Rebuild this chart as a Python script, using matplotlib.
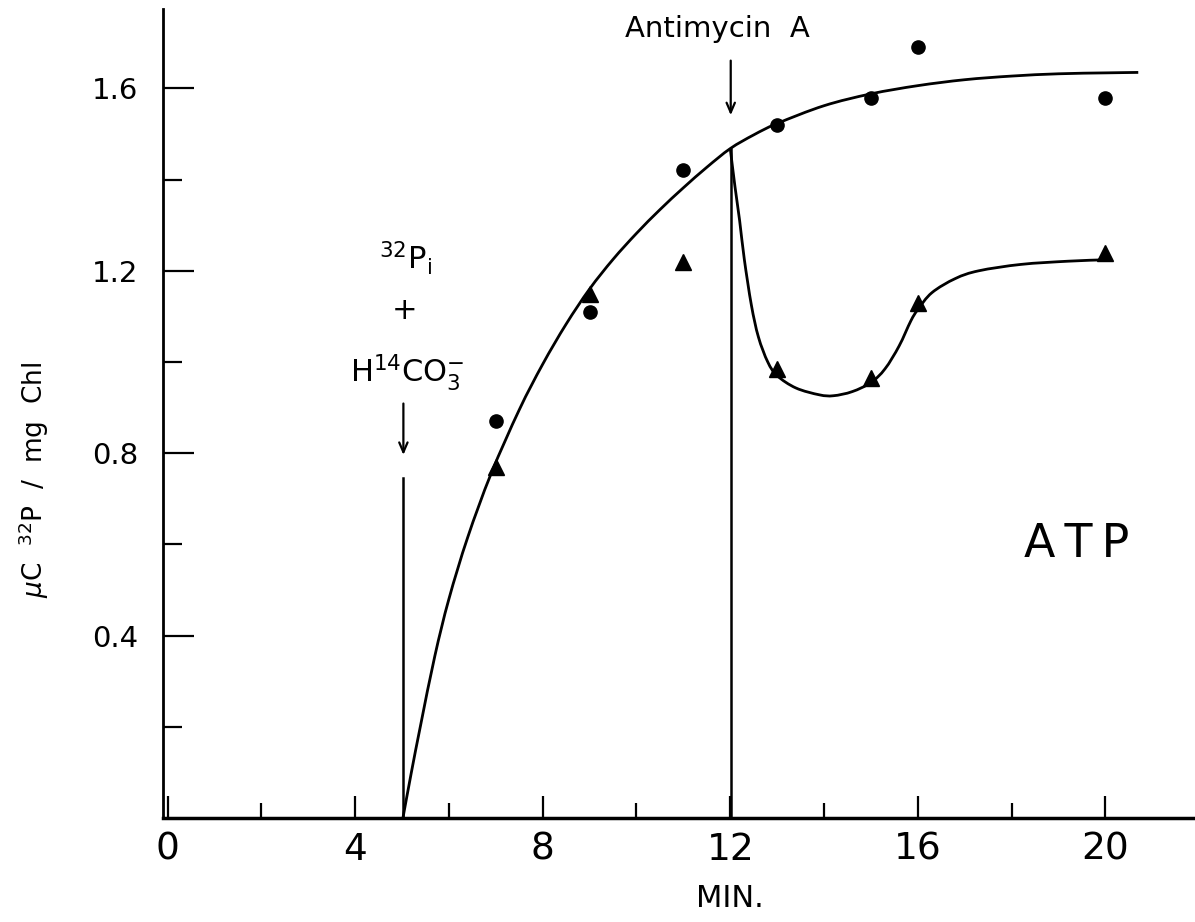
import numpy as np
import matplotlib
matplotlib.use('Agg')
import matplotlib.pyplot as plt
from matplotlib.path import Path
from matplotlib.patches import PathPatch

# measured points (min, uC 32P / mg Chl)
time = [7, 9, 11, 13, 15, 16, 20]
control = [0.87, 1.11, 1.42, 1.52, 1.58, 1.69, 1.58]
antimycin = [0.77, 1.15, 1.22, 0.985, 0.965, 1.13, 1.24]

# hand drawn curve through the control points
fit_t = [5.02, 5.2, 5.4, 5.7, 6.0, 6.4, 6.9, 7.5, 8.0, 8.5, 9.0, 9.5, 10.0, 10.5,
         11.0, 11.5, 12.0, 12.5, 13.0, 14.0, 15.0, 16.0, 17.0, 18.0, 19.0, 20.0, 20.7]
fit_y = [0.0, 0.10, 0.205, 0.355, 0.48, 0.615, 0.755, 0.895, 0.995, 1.083, 1.16, 1.225, 1.282, 1.334,
         1.382, 1.427, 1.468, 1.498, 1.523, 1.562, 1.588, 1.606, 1.619, 1.627, 1.632, 1.634, 1.635]

# curve after antimycin addition
drop_t = [12.0, 12.1, 12.2, 12.3, 12.45, 12.6, 12.8, 13.0, 13.4, 13.9, 14.2, 14.6, 15.0,
          15.3, 15.6, 15.85, 16.0, 16.3, 16.8, 17.3, 18.2, 19.2, 19.95]
drop_y = [1.468, 1.385, 1.31, 1.225, 1.125, 1.055, 1.0, 0.97, 0.943, 0.928, 0.926, 0.935, 0.955,
          0.985, 1.035, 1.09, 1.115, 1.152, 1.183, 1.200, 1.214, 1.221, 1.224]

xticks = [0, 4, 8, 12, 16, 20]
xminor = [2, 6, 10, 14, 18]
yticks = [0.4, 0.8, 1.2, 1.6]
yminor = [0.2, 0.6, 1.0, 1.4]

t_label = 5.03      # 32Pi + H14CO3- added
t_anti = 12.01      # antimycin A added


def smooth_path(xs, ys):
    # catmull-rom style bezier through the read points, so the pen line has no kinks
    pts = np.column_stack([xs, ys])
    verts = [pts[0]]
    codes = [Path.MOVETO]
    n = len(pts)
    for i in range(n - 1):
        p0 = pts[max(i - 1, 0)]
        p1 = pts[i]
        p2 = pts[i + 1]
        p3 = pts[min(i + 2, n - 1)]
        c1 = p1 + (p2 - p0) / 6.0
        c2 = p2 - (p3 - p1) / 6.0
        verts += [c1, c2, p2]
        codes += [Path.CURVE4] * 3
    return Path(verts, codes)


fig = plt.figure(figsize=(11.95, 9.22), dpi=100)
ax = fig.add_axes([0.1364, 0.1128, 0.8636, 0.8774])

ax.add_patch(PathPatch(smooth_path(fit_t, fit_y), fill=False, color='black', lw=2.0))
ax.add_patch(PathPatch(smooth_path(drop_t, drop_y), fill=False, color='black', lw=2.0))
ax.plot(time, control, 'o', color='black', ms=9.5)
ax.plot(time, antimycin, '^', color='black', ms=11)

# vertical markers for additions
ax.plot([t_label, t_label], [0, 0.746], color='black', lw=1.8)
ax.plot([t_anti, t_anti], [0, 1.468], color='black', lw=1.8)

arrow = dict(arrowstyle='->,head_length=0.7,head_width=0.3', color='black', lw=1.6)
ax.annotate('', xy=(t_label, 0.79), xytext=(t_label, 0.915), arrowprops=arrow)
ax.annotate('', xy=(t_anti, 1.535), xytext=(t_anti, 1.667), arrowprops=arrow)

ax.text(5.08, 1.228, r'$^{32}$P$_{\mathrm{i}}$', fontsize=22, ha='center', va='center')
ax.text(5.06, 1.114, '+', fontsize=22, ha='center', va='center')
ax.text(5.12, 0.978, r'H$^{14}$CO$_3^{-}$', fontsize=22, ha='center', va='center')
ax.text(11.72, 1.73, 'Antimycin  A', fontsize=21, ha='center', va='center')
ax.text(19.39, 0.599, 'A\u2009T\u2009P', fontsize=33, ha='center', va='center')

ax.set_xlim(-0.096, 21.91)
ax.set_ylim(0, 1.774)
ax.set_xticks(xticks)
ax.set_xticks(xminor, minor=True)
ax.set_yticks(yticks)
ax.set_yticks(yminor, minor=True)
ax.set_xticklabels([str(v) for v in xticks])
ax.set_yticklabels(['0.4', '0.8', '1.2', '1.6'])

ax.spines['top'].set_visible(False)
ax.spines['right'].set_visible(False)
ax.spines['left'].set_linewidth(2.0)
ax.spines['bottom'].set_linewidth(2.5)

ax.tick_params(axis='x', which='major', direction='in', length=16, width=1.6, labelsize=27, pad=10)
ax.tick_params(axis='x', which='minor', direction='in', length=11, width=1.6)
ax.tick_params(axis='y', which='major', direction='in', length=22, width=1.6, labelsize=21, pad=18)
ax.tick_params(axis='y', which='minor', direction='in', length=14, width=1.6)

fig.text(730 / 1195, 1 - 898 / 922, 'MIN.', fontsize=22, ha='center', va='center')
fig.text(34 / 1195, 1 - 480 / 922, r'$\mu$C  $^{32}$P  /  mg  Chl', fontsize=19,
         rotation=90, ha='center', va='center')

fig.savefig('out.png', dpi=100)
